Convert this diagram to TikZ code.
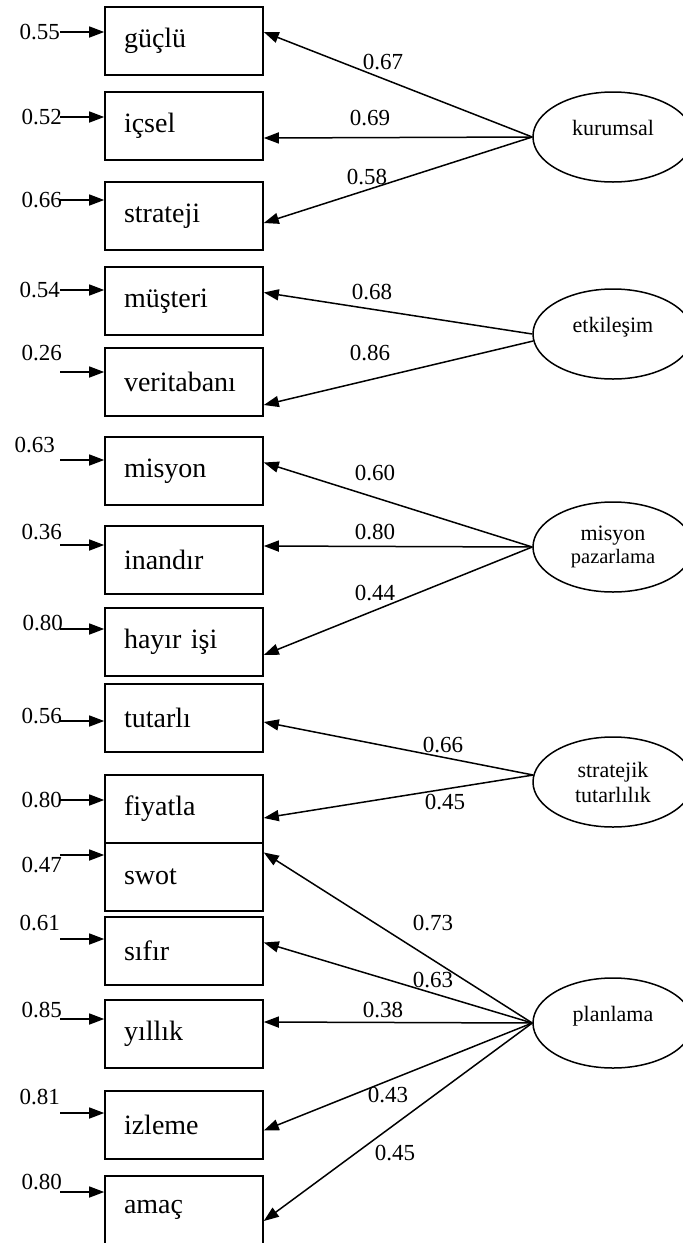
\documentclass[tikz,border=0pt]{standalone}
\usepackage{fontspec}
\setmainfont{Liberation Serif}
\usetikzlibrary{arrows.meta,calc,positioning,shapes.geometric}

\begin{document}
\begin{tikzpicture}[
  x=1pt, y=-1pt,
  >={Triangle[length=15pt,width=11pt]},
  item/.style  ={draw,line width=1.6pt,rectangle,minimum width=158pt,minimum height=68pt,
                 text width=120pt,inner xsep=19pt,inner ysep=0pt,align=left,
                 font=\fontsize{28}{30}\selectfont},
  factor/.style={draw,line width=1.5pt,ellipse,minimum width=160pt,minimum height=90pt,
                 inner sep=0pt,align=center,font=\fontsize{22}{25}\selectfont},
  single/.style={factor,text depth=18pt},
  arrow/.style ={->,line width=1.5pt},
  coef/.style  ={font=\fontsize{23}{25}\selectfont,inner sep=0pt},
  err/.style   ={coef,anchor=east},
]
\useasboundingbox (0,0) rectangle (683,1243);

%% ===== Observed variables ====================================================
\foreach \n/\y/\lab in {b1/41/güçlü, b2/126/içsel, b3/216/strateji,
    b4/301/müşteri, b5/382/veritabanı, b6/471/misyon, b7/560/inandır,
    b8/642/hayır işi, b9/718/tutarlı, b10/809/fiyatla, b11/877/swot,
    b12/951/sıfır, b13/1034/yıllık, b14/1125/izleme, b15/1210/amaç} {
  \node[item] (\n) at (184,\y) {\lab};
}

%% ===== Error terms ===========================================================
\foreach \n/\ey/\lx/\ly/\v in {b1/32/60/32/0.55, b2/117/62/117/0.52,
    b3/200/62/200/0.66, b4/290/60/290/0.54, b5/372/62/353/0.26,
    b6/460/55/445/0.63, b7/545/62/532/0.36, b8/629/63/623/0.80,
    b9/721/62/716/0.56, b10/800/62/800/0.80, b11/855/62/865/0.47,
    b12/939/60/923/0.61, b13/1019/62/1010/0.85, b14/1113/60/1097/0.81,
    b15/1192/62/1182/0.80} {
  \coordinate (s\n) at (60,\ey);
  \draw[arrow] (s\n) -- (s\n -| \n.west);
  \node[err] (l\n) at (\lx,\ly) {\v};
}

%% ===== Latent factors ========================================================
\node[single] (kur) at (613,137)  {kurumsal};
\node[single] (etk) at (613,334)  {etkileşim};
\node[factor,font=\fontsize{22}{23}\selectfont] (mis) at (613,547)
      {misyon\\{\fontsize{20.5}{23}\selectfont pazarlama}};
\node[factor] (str) at (613,782)  {stratejik\\tutarlılık};
\node[single] (pla) at (613,1023) {planlama};

%% ===== Loadings ==============================================================
\foreach \f/\n/\dy in {kur.west/b1/-9, kur.west/b2/12, kur.west/b3/7,
    etk.west/b4/-8.5, etk.185/b5/23,
    mis.west/b6/-8.5, mis.west/b7/-14, mis.west/b8/13,
    str.175/b9/4, str.175/b10/9,
    pla.west/b11/-24.5, pla.west/b12/-8.5, pla.west/b13/-12,
    pla.west/b14/5.5, pla.west/b15/11} {
  \draw[arrow] (\f) -- ($(\n.east)+(0,\dy)$);
}

\foreach \x/\y/\v [count=\i] in {383/62/0.67, 370/118/0.69, 367/177/0.58,
    372/292/0.68, 370/353/0.86, 375/473/0.60, 375/532/0.80, 375/593/0.44,
    443/745/0.66, 445/802/0.45, 433/923/0.73, 433/980/0.63, 383/1010/0.38,
    388/1095/0.43, 395/1153/0.45} {
  \node[coef] (c\i) at (\x,\y) {\v};
}

\end{tikzpicture}
\end{document}
